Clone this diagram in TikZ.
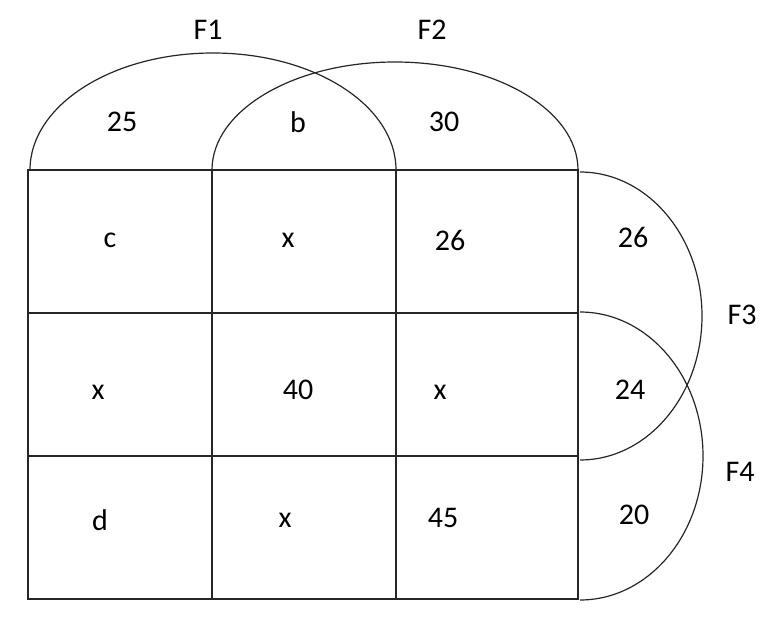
\documentclass[tikz,border=0pt]{standalone}
\usepackage{fontspec}
\setmainfont{Carlito}
\begin{document}
\begin{tikzpicture}[x=1pt,y=-1pt,
  lbl/.style={font=\fontsize{30}{32}\selectfont, text=black, inner sep=0pt},
  ln/.style={draw=black!85, line width=1.2pt}]
\useasboundingbox (0,0) rectangle (780,621);
% grid
\draw[ln] (28,170) rectangle (578,599);
\draw[ln] (212,170) -- (212,599);
\draw[ln] (396,170) -- (396,599);
\draw[ln] (28,313) -- (578,313);
\draw[ln] (28,456) -- (578,456);
% top arcs
\draw[ln] (30,170) arc[start angle=180, end angle=0, x radius=183, y radius=-117];
\draw[ln] (212,170) arc[start angle=180, end angle=0, x radius=183, y radius=-108];
% right arcs
\draw[ln] (580,172) arc[start angle=90, end angle=-90, x radius=122, y radius=-144];
\draw[ln] (580,312) arc[start angle=90, end angle=-90, x radius=123, y radius=-144];
% labels
\node[lbl] (f1) at (208,30) {F1};
\node[lbl] (f2) at (432,30) {F2};
\node[lbl] (f3) at (742,315) {F3};
\node[lbl] (f4) at (740,472) {F4};
\node[lbl] (a25) at (122,122) {25};
\node[lbl] (ab) at (298,122) {b};
\node[lbl] (a30) at (444,122) {30};
\node[lbl] (c11) at (110,240) {c};
\node[lbl] (c12) at (288,240) {x};
\node[lbl] (c13) at (450,240) {26};
\node[lbl] (c21) at (98,392) {x};
\node[lbl] (c22) at (298,390) {40};
\node[lbl] (c23) at (440,392) {x};
\node[lbl] (c31) at (100,520) {d};
\node[lbl] (c32) at (285,520) {x};
\node[lbl] (c33) at (443,518) {45};
\node[lbl] (r1) at (633,237) {26};
\node[lbl] (r2) at (630,390) {24};
\node[lbl] (r3) at (634,515) {20};
\end{tikzpicture}
\end{document}
